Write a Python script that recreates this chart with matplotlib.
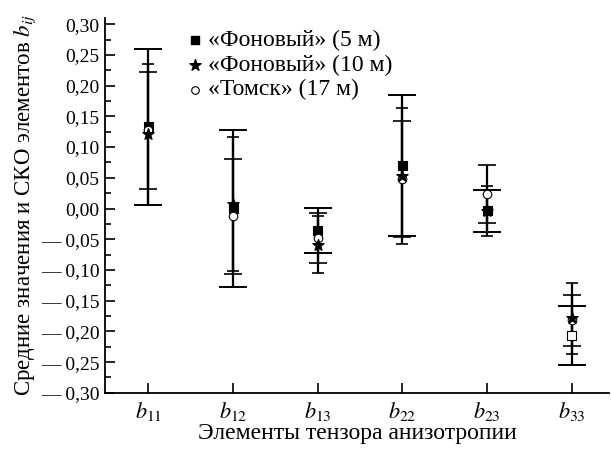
import matplotlib
matplotlib.use("Agg")
import matplotlib.pyplot as plt
from matplotlib.ticker import MultipleLocator, FuncFormatter

# tensor elements on the x axis
elements = [r"$b_{11}$", r"$b_{12}$", r"$b_{13}$", r"$b_{22}$", r"$b_{23}$", r"$b_{33}$"]

# «Фоновый» (5 м)
fon5_mean = [0.133, 0.000, -0.036, 0.070, -0.004, -0.206]
fon5_sko = [0.127, 0.128, 0.037, 0.114, 0.034, 0.048]

# «Фоновый» (10 м)
fon10_mean = [0.121, 0.007, -0.059, 0.053, -0.004, -0.179]
fon10_sko = [0.115, 0.109, 0.046, 0.110, 0.040, 0.058]

# «Томск» (17 м)
tomsk_mean = [0.127, -0.013, -0.048, 0.048, 0.024, -0.182]
tomsk_sko = [0.095, 0.094, 0.040, 0.094, 0.047, 0.041]

plt.rcParams['font.family'] = ['Liberation Serif', 'DejaVu Serif']
plt.rcParams['mathtext.fontset'] = 'stix'

fig = plt.figure(figsize=(6.11, 4.51), dpi=100)
ax = fig.add_axes([0.172, 0.129, 0.825, 0.831])

x = list(range(1, len(elements) + 1))

# error bars: different cap widths for each series
ax.errorbar(x, fon5_mean, yerr=fon5_sko, fmt='none', ecolor='black',
            elinewidth=1.6, capsize=10, capthick=1.4)
ax.errorbar(x, tomsk_mean, yerr=tomsk_sko, fmt='none', ecolor='black',
            elinewidth=1.6, capsize=6.8, capthick=1.2)
ax.errorbar(x, fon10_mean, yerr=fon10_sko, fmt='none', ecolor='black',
            elinewidth=1.6, capsize=4.6, capthick=1.2)

# markers (the last square is drawn open in the original)
sq_faces = ['black'] * 5 + ['white']
ax.scatter(x, fon5_mean, marker='s', s=42, facecolors=sq_faces,
           edgecolors='black', linewidths=0.8, zorder=3)
ax.scatter(x, tomsk_mean, marker='o', s=38, facecolors='white',
           edgecolors='black', linewidths=0.8, zorder=4)
ax.scatter(x, fon10_mean, marker='*', s=70, color='black', zorder=5)

# legend drawn as marker + text
leg_y = [0.274, 0.2335, 0.193]
leg_txt = ['«Фоновый» (5 м)', '«Фоновый» (10 м)', '«Томск» (17 м)']
ax.scatter([1.55], [leg_y[0]], marker='s', s=38, color='black', zorder=5)
ax.scatter([1.55], [leg_y[1]], marker='*', s=70, color='black', zorder=5)
ax.scatter([1.55], [leg_y[2]], marker='o', s=30, facecolors='white',
           edgecolors='black', linewidths=0.8, zorder=5)
for yy, t in zip(leg_y, leg_txt):
    ax.text(1.70, yy, t, fontsize=17, va='center', ha='left')

ax.set_xlim(0.49, 6.44)
ax.set_ylim(-0.30, 0.31)
ax.set_xticks(x)
ax.set_xticklabels(elements, fontsize=16)
ax.yaxis.set_minor_locator(MultipleLocator(0.025))
ax.set_yticks([i * 0.05 - 0.30 for i in range(13)])


def fmt(v, pos):
    s = "{:.2f}".format(abs(v)).replace('.', ',')
    if v < -1e-9:
        s = "\u2014 " + s
    return s


ax.yaxis.set_major_formatter(FuncFormatter(fmt))
ax.tick_params(axis='y', which='major', direction='in', length=7, width=1.2,
               labelsize=14, pad=4)
ax.tick_params(axis='y', which='minor', direction='in', length=4, width=1.2)
ax.tick_params(axis='x', which='major', direction='in', length=7, width=1.2,
               pad=5)

ax.spines['top'].set_visible(False)
ax.spines['right'].set_visible(False)
ax.spines['left'].set_linewidth(1.3)
ax.spines['bottom'].set_linewidth(1.3)

ax.set_xlabel('Элементы тензора анизотропии', fontsize=17, labelpad=0)
ax.set_ylabel(r'Средние значения и СКО элементов $b_{ij}$', fontsize=16.5,
              labelpad=2)

fig.savefig('out.png', dpi=100)
